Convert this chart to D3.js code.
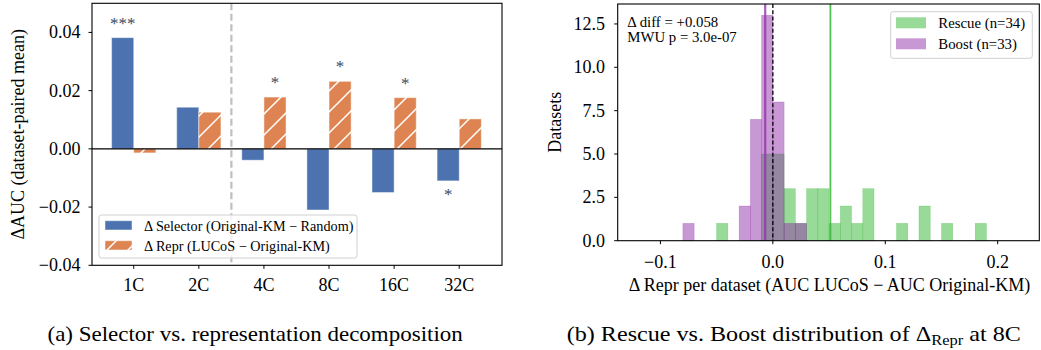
<!DOCTYPE html>
<html>
<head>
<meta charset="utf-8">
<script src="https://cdn.jsdelivr.net/npm/d3@7"></script>
<style>
  html, body { margin: 0; padding: 0; background: #fff; }
  svg { display: block; }
  text { font-family: "Liberation Serif", "Times New Roman", serif; fill: #000; }
</style>
</head>
<body>
<svg id="chart" width="1041" height="350"></svg>
<script>
// ---------------- DATA ----------------
const categories = ["1C", "2C", "4C", "8C", "16C", "32C"];
const selectorDelta = [0.0382, 0.0143, -0.0039, -0.0210, -0.0150, -0.0110];
const reprDelta = [-0.0014, 0.0126, 0.0178, 0.0232, 0.0176, 0.0103];
const selectorSig = ["***", "", "", "", "", "*"];
const reprSig = ["", "", "*", "*", "*", ""];
const leftYTicks = [-0.04, -0.02, 0.00, 0.02, 0.04];
const leftYTickLabels = ["\u22120.04", "\u22120.02", "0.00", "0.02", "0.04"];
const legendLeft = ["\u0394 Selector (Original-KM \u2212 Random)", "\u0394 Repr (LUCoS \u2212 Original-KM)"];

const binWidth = 0.01;
const rescueBinStarts = [-0.05, -0.01, 0.00, 0.01, 0.02, 0.03, 0.04, 0.05, 0.06, 0.07, 0.08, 0.11, 0.13, 0.15, 0.18];
const rescueCounts    = [1, 5, 5, 3, 1, 3, 3, 1, 2, 1, 3, 1, 2, 1, 1];
const boostBinStarts  = [-0.08, -0.03, -0.02, -0.01, 0.00, 0.01, 0.02];
const boostCounts     = [1, 2, 7, 13, 8, 1, 1];
const rescueMedian = 0.0512;
const boostMedian = -0.0068;
const rightXTicks = [-0.1, 0.0, 0.1, 0.2];
const rightXTickLabels = ["\u22120.1", "0.0", "0.1", "0.2"];
const rightYTicks = [0, 2.5, 5, 7.5, 10, 12.5];
const rightYTickLabels = ["0.0", "2.5", "5.0", "7.5", "10.0", "12.5"];
const legendRight = ["Rescue (n=34)", "Boost (n=33)"];
const annotLines = ["\u0394 diff = +0.058", "MWU p = 3.0e-07"];

// ---------------- STYLE ----------------
const BLUE = "#4c72b0", ORANGE = "#dd8452";
const GREEN = "rgb(50,182,50)", PURPLE = "rgb(146,50,170)";
const FS = 18;

const svg = d3.select("#chart");
const defs = svg.append("defs");
const pat = defs.append("pattern").attr("id", "hatch")
  .attr("patternUnits", "userSpaceOnUse").attr("width", 21).attr("height", 21);
pat.append("rect").attr("width", 21).attr("height", 21).attr("fill", ORANGE);
pat.append("path").attr("d", "M-2,23 L23,-2 M-6,6 L6,-6 M15,27 L27,15")
  .attr("stroke", "#fff").attr("stroke-width", 1.5);

// ============ LEFT PANEL ============
const L = { x0: 92, x1: 502, y0: 3.3, y1: 265.3 };
const xL = d3.scaleLinear().domain([-0.641, 5.657]).range([L.x0, L.x1]);
const yL = d3.scaleLinear().domain([-0.04, 0.05]).range([L.y1, L.y0]);
const bw = 0.34;
const gL = svg.append("g");

// separator
gL.append("line")
  .attr("x1", xL(1.5)).attr("x2", xL(1.5)).attr("y1", L.y0).attr("y2", L.y1)
  .attr("stroke", "#bfbfbf").attr("stroke-width", 2.2).attr("stroke-dasharray", "7,3.5");

// bars
gL.selectAll(".sel").data(selectorDelta).join("rect")
  .attr("x", (d, i) => xL(i - bw))
  .attr("width", (d, i) => xL(i) - xL(i - bw))
  .attr("y", d => yL(Math.max(0, d)))
  .attr("height", d => Math.abs(yL(d) - yL(0)))
  .attr("fill", BLUE).attr("stroke", "rgba(255,255,255,0.45)").attr("stroke-width", 1);

gL.selectAll(".rep").data(reprDelta).join("rect")
  .attr("x", (d, i) => xL(i))
  .attr("width", (d, i) => xL(i + bw) - xL(i))
  .attr("y", d => yL(Math.max(0, d)))
  .attr("height", d => Math.abs(yL(d) - yL(0)))
  .attr("fill", "url(#hatch)").attr("stroke", "rgba(255,255,255,0.5)").attr("stroke-width", 1);

// significance stars
function star(x, val, txt) {
  if (!txt) return;
  const yy = val >= 0 ? yL(val) - 17 : yL(val) + 10.7;
  gL.append("text").attr("x", x).attr("y", yy + 8)
    .attr("text-anchor", "middle").attr("font-size", 17).style("fill", "#3b4a60")
    .text(txt);
}
selectorDelta.forEach((d, i) => star(xL(i - bw / 2), d, selectorSig[i]));
reprDelta.forEach((d, i) => star(xL(i + bw / 2), d, reprSig[i]));

// zero line
gL.append("line").attr("x1", L.x0).attr("x2", L.x1).attr("y1", yL(0)).attr("y2", yL(0))
  .attr("stroke", "#000").attr("stroke-width", 1.1);

// frame
gL.append("rect").attr("x", L.x0).attr("y", L.y0).attr("width", L.x1 - L.x0).attr("height", L.y1 - L.y0)
  .attr("fill", "none").attr("stroke", "#000").attr("stroke-width", 1.1);

// y ticks
leftYTicks.forEach((t, i) => {
  gL.append("line").attr("x1", L.x0 - 3.5).attr("x2", L.x0).attr("y1", yL(t)).attr("y2", yL(t)).attr("stroke", "#000");
  gL.append("text").attr("x", L.x0 - 11.5).attr("y", yL(t) + 6).attr("text-anchor", "end")
    .attr("font-size", FS).text(leftYTickLabels[i]);
});
// x ticks
categories.forEach((c, i) => {
  gL.append("line").attr("x1", xL(i)).attr("x2", xL(i)).attr("y1", L.y1).attr("y2", L.y1 + 3.5).attr("stroke", "#000");
  gL.append("text").attr("x", xL(i)).attr("y", 290.7).attr("text-anchor", "middle")
    .attr("font-size", FS).text(c);
});
// y label
gL.append("text").attr("transform", `translate(24,${(L.y0 + L.y1) / 2}) rotate(-90)`)
  .attr("text-anchor", "middle").attr("font-size", FS).text("\u0394AUC (dataset-paired mean)");

// legend
const lg = gL.append("g");
lg.append("rect").attr("x", 99).attr("y", 215).attr("width", 258).attr("height", 43).attr("rx", 2.5)
  .attr("fill", "rgba(255,255,255,0.8)").attr("stroke", "#d0d0d0").attr("stroke-width", 1);
[BLUE, "url(#hatch)"].forEach((f, k) => {
  const yy = k === 0 ? 220.7 : 240.7;
  lg.append("rect").attr("x", 105).attr("y", yy).attr("width", 27).attr("height", 9.3)
    .attr("fill", f).attr("stroke", "rgba(255,255,255,0.5)").attr("stroke-width", 1);
  lg.append("text").attr("x", 144).attr("y", yy + 10.3).attr("font-size", 14.2).text(legendLeft[k]);
});

// ============ RIGHT PANEL ============
const R = { x0: 617.7, x1: 1039.3, y0: 4, y1: 240.7 };
const xR = d3.scaleLinear().domain([-0.138, 0.237]).range([R.x0, R.x1]);
const yR = d3.scaleLinear().domain([0, 13.65]).range([R.y1, R.y0]);
const gR = svg.append("g");

function hist(starts, counts, color) {
  gR.selectAll(null).data(starts).join("rect")
    .attr("x", d => xR(d))
    .attr("width", d => xR(d + binWidth) - xR(d))
    .attr("y", (d, i) => yR(counts[i]))
    .attr("height", (d, i) => yR(0) - yR(counts[i]))
    .attr("fill", color).attr("fill-opacity", 0.5)
    .attr("stroke", color).attr("stroke-opacity", 0.35).attr("stroke-width", 0.6);
}
hist(rescueBinStarts, rescueCounts, GREEN);
hist(boostBinStarts, boostCounts, PURPLE);

// median lines
gR.append("line").attr("x1", xR(rescueMedian)).attr("x2", xR(rescueMedian)).attr("y1", R.y0).attr("y2", R.y1)
  .attr("stroke", GREEN).attr("stroke-opacity", 0.85).attr("stroke-width", 1.8);
gR.append("line").attr("x1", xR(boostMedian)).attr("x2", xR(boostMedian)).attr("y1", R.y0).attr("y2", R.y1)
  .attr("stroke", PURPLE).attr("stroke-opacity", 0.8).attr("stroke-width", 2.2);
gR.append("line").attr("x1", xR(0)).attr("x2", xR(0)).attr("y1", R.y0).attr("y2", R.y1)
  .attr("stroke", "#000").attr("stroke-width", 1.3).attr("stroke-dasharray", "4,2.2");

// frame
gR.append("rect").attr("x", R.x0).attr("y", R.y0).attr("width", R.x1 - R.x0).attr("height", R.y1 - R.y0)
  .attr("fill", "none").attr("stroke", "#000").attr("stroke-width", 1.1);

rightYTicks.forEach((t, i) => {
  gR.append("line").attr("x1", R.x0 - 3.5).attr("x2", R.x0).attr("y1", yR(t)).attr("y2", yR(t)).attr("stroke", "#000");
  gR.append("text").attr("x", 605).attr("y", yR(t) + 6).attr("text-anchor", "end")
    .attr("font-size", FS).text(rightYTickLabels[i]);
});
rightXTicks.forEach((t, i) => {
  gR.append("line").attr("x1", xR(t)).attr("x2", xR(t)).attr("y1", R.y1).attr("y2", R.y1 + 3.5).attr("stroke", "#000");
  gR.append("text").attr("x", xR(t)).attr("y", 267.7).attr("text-anchor", "middle")
    .attr("font-size", FS).text(rightXTickLabels[i]);
});
gR.append("text").attr("x", (R.x0 + R.x1) / 2 + 1).attr("y", 291).attr("text-anchor", "middle")
  .attr("font-size", FS).text("\u0394 Repr per dataset (AUC LUCoS \u2212 AUC Original-KM)");
gR.append("text").attr("transform", `translate(561,${(R.y0 + R.y1) / 2}) rotate(-90)`)
  .attr("text-anchor", "middle").attr("font-size", FS).text("Datasets");

// annotation
annotLines.forEach((t, k) => {
  gR.append("text").attr("x", 627.3).attr("y", 27 + k * 14.8).attr("font-size", 14.8).text(t);
});

// legend
const lr = gR.append("g");
lr.append("rect").attr("x", 890.7).attr("y", 11.7).attr("width", 141.6).attr("height", 46.6).attr("rx", 2.5)
  .attr("fill", "rgba(255,255,255,0.8)").attr("stroke", "#d0d0d0").attr("stroke-width", 1);
[GREEN, PURPLE].forEach((c, k) => {
  const yy = k === 0 ? 17.3 : 38.3;
  lr.append("rect").attr("x", 896).attr("y", yy).attr("width", 30).attr("height", 11)
    .attr("fill", c).attr("fill-opacity", 0.5);
  lr.append("text").attr("x", 938.3).attr("y", yy + 11).attr("font-size", 14.8).text(legendRight[k]);
});

// ============ CAPTIONS ============
function caption(x0, x1, y, build) {
  const t = svg.append("text").attr("font-size", 22).attr("y", 0);
  build(t);
  const w = t.node().getBBox().width;
  t.attr("transform", `translate(${x0},${y}) scale(${(x1 - x0) / w},1)`);
}
caption(47.5, 463, 340.5, t => t.text("(a) Selector vs. representation decomposition"));
caption(566.7, 1021, 340.5, t => {
  t.append("tspan").text("(b) Rescue vs. Boost distribution of \u0394");
  t.append("tspan").attr("font-size", 15).attr("dy", 4).text("Repr");
  t.append("tspan").attr("dy", -4).text(" at 8C");
});
</script>
</body>
</html>
